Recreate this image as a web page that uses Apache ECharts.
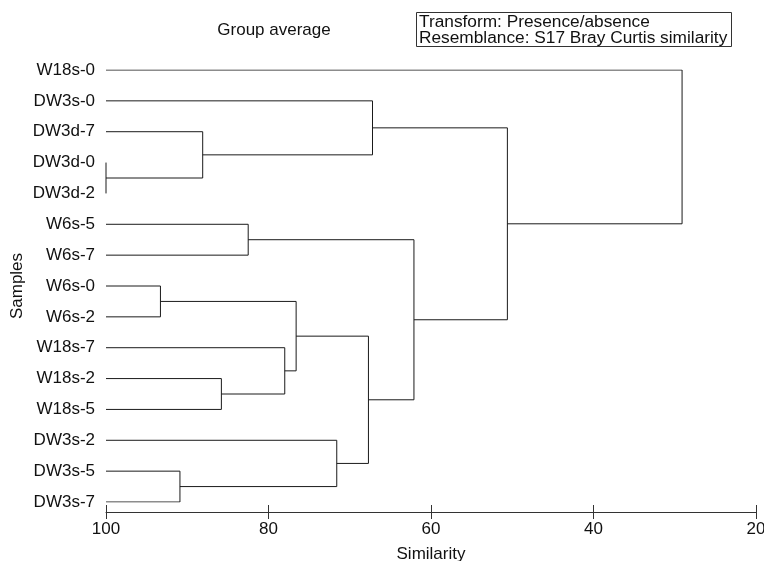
<!DOCTYPE html>
<html>
<head>
<meta charset="utf-8">
<script src="https://cdn.jsdelivr.net/npm/echarts@6/dist/echarts.min.js"></script>
<style>html,body{margin:0;padding:0;background:#fff}#c{width:764px;height:561px}</style>
</head>
<body>
<div id="c"></div>
<script>
// Leaf labels in dendrogram order (top to bottom)
const leaves = ['W18s-0','DW3s-0','DW3d-7','DW3d-0','DW3d-2','W6s-5','W6s-7','W6s-0','W6s-2','W18s-7','W18s-2','W18s-5','DW3s-2','DW3s-5','DW3s-7'];
// Merges: child A, child B (leaf index, or 15+k for the k-th merge), similarity at which they join
const mergeA = [3, 2, 1, 5, 7, 10, 9, 19, 13, 12, 22, 18, 17, 0];
const mergeB = [4, 15, 16, 6, 8, 11, 20, 21, 14, 23, 24, 25, 26, 27];
const mergeSim = [100, 88.1, 67.2, 82.5, 93.3, 85.8, 78.0, 76.6, 90.9, 71.6, 67.7, 62.1, 50.6, 29.1];
const xTicks = [100, 80, 60, 40, 20];

const n = leaves.length;
const nodeY = leaves.map((_, i) => i);
const nodeH = leaves.map(() => 100);
const series = [];
for (let k = 0; k < mergeA.length; k++) {
  const a = mergeA[k], b = mergeB[k], h = mergeSim[k];
  const ya = nodeY[a], yb = nodeY[b];
  series.push({
    type: 'line', xAxisIndex: 0, yAxisIndex: 1, symbol: 'none', silent: true,
    lineStyle: {color: '#1a1a1a', width: 1},
    data: [[nodeH[a], ya], [h, ya], [h, yb], [nodeH[b], yb]]
  });
  nodeY.push((ya + yb) / 2);
  nodeH.push(h);
}

const font = 'Liberation Sans, Arial, sans-serif';
const gridBox = {left: 106, right: 8, top: 70, bottom: 59, containLabel: false, outerBoundsMode: 'none'};
const chart = echarts.init(document.getElementById('c'), null, {renderer: 'canvas'});
chart.setOption({
  animation: false,
  backgroundColor: '#fff',
  title: [
    {text: 'Group average', left: 274, top: 22, textAlign: 'center', padding: 0,
     textStyle: {fontFamily: font, fontSize: 17, fontWeight: 'normal', color: '#111'}},
    {text: 'Transform: Presence/absence\nResemblance: S17 Bray Curtis similarity', left: 416, top: 13,
     borderWidth: 1, borderColor: '#333', padding: [1, 4, 0, 3],
     textStyle: {fontFamily: font, fontSize: 17.3, fontWeight: 'normal', color: '#111', lineHeight: 16}}
  ],
  grid: [Object.assign({}, gridBox), Object.assign({}, gridBox)],
  xAxis: [
    {type: 'value', gridIndex: 0, min: 20, max: 100, interval: 20, inverse: true, position: 'bottom', offset: 10,
     splitLine: {show: false},
     axisLine: {show: true, onZero: false, lineStyle: {color: '#333', width: 1}},
     axisTick: {show: true, length: 7, lineStyle: {color: '#333'}},
     axisLabel: {fontFamily: font, fontSize: 17, color: '#111', margin: 9,
       formatter: v => xTicks.indexOf(v) >= 0 ? String(v) : ''},
     name: 'Similarity', nameLocation: 'middle', nameGap: 34, nameMoveOverlap: false,
     nameTextStyle: {fontFamily: font, fontSize: 17, color: '#111'}},
    {type: 'value', gridIndex: 1, min: 20, max: 100, interval: 20, inverse: true, position: 'bottom', offset: 10,
     splitLine: {show: false}, axisLine: {show: false, onZero: false},
     axisTick: {show: true, inside: true, length: 7, lineStyle: {color: '#333'}},
     axisLabel: {show: false}}
  ],
  yAxis: [
    {type: 'category', gridIndex: 0, data: leaves, inverse: true, boundaryGap: false,
     axisLine: {show: false, onZero: false}, axisTick: {show: false}, splitLine: {show: false},
     axisLabel: {fontFamily: font, fontSize: 17, color: '#111', margin: 11, interval: 0},
     name: 'Samples', nameLocation: 'middle', nameRotate: 90, nameGap: 80, nameMoveOverlap: false,
     nameTextStyle: {fontFamily: font, fontSize: 17, color: '#111'}},
    {type: 'value', gridIndex: 0, min: 0, max: n - 1, inverse: true, show: false},
    {type: 'value', gridIndex: 1, min: 0, max: n - 1, inverse: true, show: false}
  ],
  series: series
});
</script>
</body>
</html>
